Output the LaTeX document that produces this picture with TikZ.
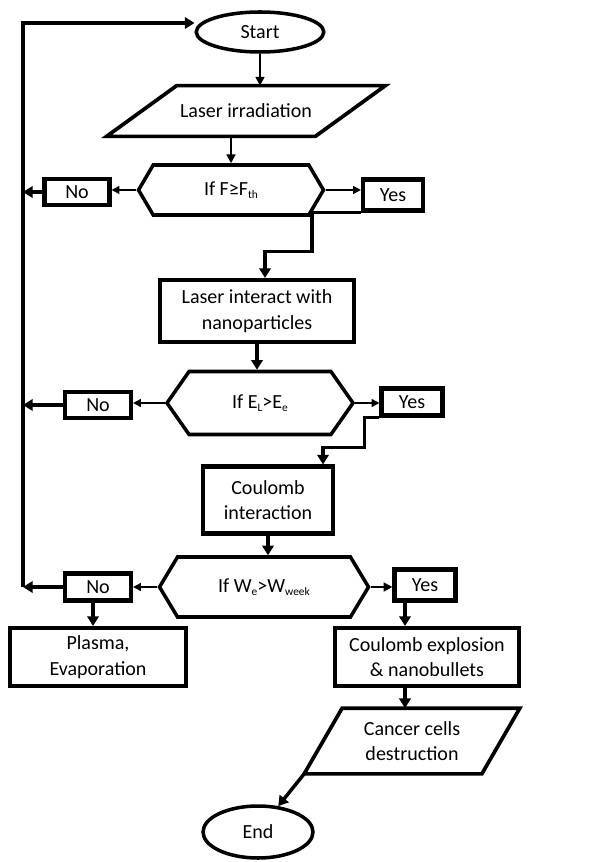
\documentclass[tikz,border=0pt]{standalone}
\usepackage{fontspec}
\setmainfont{Carlito}
\usetikzlibrary{shapes.geometric,shapes.symbols,arrows.meta}

\newcommand{\lsub}[1]{\raisebox{-0.25ex}{\fontsize{6.5}{7}\selectfont #1}}

\tikzset{
    box/.style={draw,line width=2.3pt,align=center,inner sep=1pt},
    term/.style={ellipse,draw,line width=2pt,inner sep=0pt},
    io/.style={align=center,inner sep=0pt},
    ioline/.style={line width=2.1pt,line join=miter},
    decision/.style={signal,signal to=west and east,draw,line width=2pt,inner sep=0pt},
    thinarrow/.style={-{Triangle[length=4.5pt,width=4.5pt]},line width=0.8pt},
    midarrow/.style={-{Triangle[length=5pt,width=5pt]},line width=1.2pt},
    thickarrow/.style={-{Triangle[length=5.5pt,width=6.5pt]},line width=2pt}
}

\begin{document}
\begin{tikzpicture}[font=\fontsize{11.4}{14.5}\selectfont]
    \useasboundingbox (0,0) rectangle (11.94,-17.24);

    % Start und Laser
    \node[term,minimum width=2.55cm,minimum height=0.8cm] (start) at (5.20,-0.64) {Start};
    \node[io,minimum width=4.16cm,minimum height=1.0cm] (irr) at (4.92,-2.22) {Laser irradiation};
    \draw[ioline] ([xshift=0.7cm]irr.north west) -- ([xshift=0.7cm]irr.north east)
        -- ([xshift=-0.7cm]irr.south east) -- ([xshift=-0.7cm]irr.south west) -- cycle;
    \node[decision,signal pointer angle=119,minimum width=3.7cm,minimum height=1.0cm] (dec1) at (4.62,-3.80) {If F≥F\lsub{th}};
    \node[box,minimum width=1.3cm,minimum height=0.52cm] (no1) at (1.54,-3.84) {No};
    \node[box,minimum width=1.2cm,minimum height=0.62cm] (yes1) at (7.86,-3.90) {Yes};

    % Wechselwirkung
    \node[box,minimum width=3.88cm,minimum height=1.24cm] (inter) at (5.14,-6.22) {Laser interact with\\nanoparticles};
    \node[decision,signal pointer angle=110,minimum width=3.72cm,minimum height=1.26cm] (dec2) at (5.20,-8.06) {If E\lsub{L}>E\lsub{e}};
    \node[box,minimum width=1.32cm,minimum height=0.52cm] (no2) at (1.96,-8.10) {No};
    \node[box,minimum width=1.22cm,minimum height=0.54cm] (yes2) at (8.24,-8.04) {Yes};

    % Coulomb
    \node[box,minimum width=2.6cm,minimum height=1.34cm] (coul) at (5.36,-10.00) {Coulomb\\interaction};
    \node[decision,signal pointer angle=118,minimum width=4.18cm,minimum height=1.2cm] (dec3) at (5.28,-11.74) {If W\lsub{e}>W\lsub{week}};
    \node[box,minimum width=1.32cm,minimum height=0.54cm] (no3) at (1.96,-11.74) {No};
    \node[box,minimum width=1.22cm,minimum height=0.62cm] (yes3) at (8.50,-11.70) {Yes};

    % Ende
    \node[box,minimum width=3.52cm,minimum height=1.16cm] (plasma) at (1.96,-13.14) {Plasma,\\Evaporation};
    \node[box,minimum width=3.68cm,minimum height=1.16cm] (expl) at (8.54,-13.14) {Coulomb explosion\\\& nanobullets};
    \node[io,minimum width=3.54cm,minimum height=1.3cm] (cancer) at (8.24,-14.82) {Cancer cells\\destruction};
    \draw[ioline] ([xshift=0.38cm]cancer.north west) -- ([xshift=0.38cm]cancer.north east)
        -- ([xshift=-0.38cm]cancer.south east) -- ([xshift=-0.38cm]cancer.south west) -- cycle;
    \node[term,minimum width=2.2cm,minimum height=1.04cm] (end) at (5.16,-16.64) {End};

    % Rueckfuehrung
    \coordinate (lt) at (0.46,-0.46);
    \coordinate (lb) at (0.46,-11.74);
    \draw[thickarrow,line join=miter] (lb) -- (lt) -- (lt -| start.west);

    % Pfeile
    \draw[midarrow] (start.south) -- (start.south |- irr.north);
    \draw[midarrow] (irr.south -| dec1.north) -- (dec1.north);
    \draw[thinarrow] (dec1.west) -- (dec1.west -| no1.east);
    \draw[thinarrow] (dec1.east) -- (dec1.east -| yes1.west);
    \draw[thickarrow] (no1.west) -- (no1.west -| lt);
    \draw[thickarrow] (yes1.south west) -- ++(-0.98,0) -- ++(0,-0.78) -| ([xshift=0.16cm]inter.north);

    \draw[thickarrow] (inter.south) -- (inter.south |- dec2.north);
    \draw[thinarrow] (dec2.west) -- (dec2.west -| no2.east);
    \draw[thinarrow] (dec2.east) -- (dec2.east -| yes2.west);
    \draw[thickarrow] (no2.west) -- (no2.west -| lt);
    \draw[thickarrow] (yes2.south west) -- ++(-0.30,0) -- ++(0,-0.60) -| ([xshift=1.1cm]coul.north);

    \draw[thickarrow] (coul.south) -- (coul.south |- dec3.north);
    \draw[thinarrow] (dec3.west) -- (dec3.west -| no3.east);
    \draw[midarrow] (dec3.east) -- (dec3.east -| yes3.west);
    \draw[thickarrow] (no3.west) -- (lb);
    \draw[thickarrow] ([xshift=-0.1cm]no3.south) -- ([xshift=-0.1cm]no3.south |- plasma.north);
    \draw[thickarrow] ([xshift=-0.4cm]yes3.south) -- ([xshift=-0.4cm]yes3.south |- expl.north);
    \draw[thickarrow] ([xshift=-0.44cm]expl.south) -- ([xshift=-0.44cm]expl.south |- cancer.north);
    \draw[thickarrow] ([xshift=-0.38cm]cancer.south west) -- (end.52);
\end{tikzpicture}
\end{document}
